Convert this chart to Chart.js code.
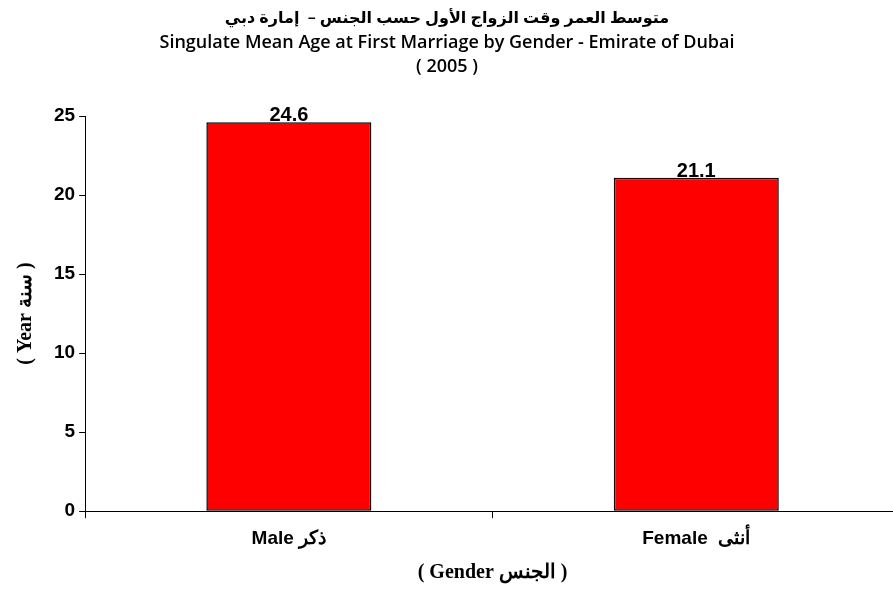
<!DOCTYPE html>
<html>
<head>
<meta charset="utf-8">
<script src="https://cdn.jsdelivr.net/npm/chart.js@4/dist/chart.umd.min.js"></script>
<style>
html,body{margin:0;padding:0;background:#fff;overflow:hidden;width:893px;height:589px;}
#wrap{position:absolute;left:0;top:0;width:912px;height:589px;}
</style>
</head>
<body>
<div id="wrap"><canvas id="c" width="912" height="589"></canvas></div>
<script>
const categories = ["Male ذكر", "Female  أنثى"];
const values = [24.6, 21.1];
const yTicks = [0, 5, 10, 15, 20, 25];
const titleLines = [
  "متوسط العمر وقت الزواج الأول حسب الجنس –  إمارة دبي",
  "Singulate Mean Age at First Marriage by Gender - Emirate of Dubai",
  "( 2005 )"
];
const yTitle = "( Year سنة )";
const xTitle = "( Gender الجنس )";

const titlePlugin = {
  id: 'customTitle',
  afterDraw(chart) {
    const ctx = chart.ctx;
    ctx.save();
    ctx.fillStyle = '#000';
    ctx.textAlign = 'center';
    ctx.textBaseline = 'middle';
    const ys = [18, 43, 67];
    const sizes = [16, 18, 18];
    titleLines.forEach((t, i) => {
      ctx.font = '600 ' + sizes[i] + 'px "Open Sans", "Noto Sans", "DejaVu Sans", sans-serif';
      ctx.fillText(t, 447, ys[i]);
    });
    ctx.restore();
  }
};

const valueLabels = {
  id: 'valueLabels',
  afterDatasetsDraw(chart) {
    const ctx = chart.ctx;
    const meta = chart.getDatasetMeta(0);
    ctx.save();
    ctx.fillStyle = '#000';
    ctx.textAlign = 'center';
    ctx.textBaseline = 'alphabetic';
    ctx.font = 'bold 20px "Liberation Sans", Arial, sans-serif';
    meta.data.forEach((bar, i) => {
      ctx.fillText(values[i].toFixed(1), bar.x, bar.y - 1);
    });
    ctx.restore();
  }
};

new Chart(document.getElementById('c'), {
  type: 'bar',
  data: {
    labels: categories,
    datasets: [{
      data: values,
      backgroundColor: '#ff0000',
      borderColor: '#000',
      borderWidth: 1.5,
      borderSkipped: false,
      barPercentage: 0.405,
      categoryPercentage: 1.0
    }]
  },
  options: {
    responsive: false,
    animation: false,
    devicePixelRatio: 1,
    layout: { padding: { top: 116, right: 12, left: 14, bottom: 4 } },
    plugins: {
      legend: { display: false },
      title: { display: false },
      tooltip: { enabled: false }
    },
    scales: {
      x: {
        grid: { display: true, drawOnChartArea: false, offset: true, color: '#000', tickLength: 7, lineWidth: 1 },
        border: { display: true, color: '#000', width: 1 },
        ticks: {
          color: '#000', padding: 9,
          font: { family: '"Liberation Sans", Arial, sans-serif', size: 19, weight: 'bold' }
        },
        title: {
          display: true, text: xTitle, color: '#000', padding: { top: 2, bottom: 0 },
          font: { family: '"Liberation Serif", "Times New Roman", serif', size: 20, weight: 'bold' }
        }
      },
      y: {
        min: 0, max: 25,
        afterBuildTicks(axis) { axis.ticks = yTicks.map(v => ({ value: v })); },
        grid: { display: true, drawOnChartArea: false, color: '#000', tickLength: 6, lineWidth: 1 },
        border: { display: true, color: '#000', width: 1 },
        ticks: {
          color: '#000', padding: 4,
          font: { family: '"Liberation Sans", Arial, sans-serif', size: 19, weight: 'bold' }
        },
        title: {
          display: true, text: yTitle, color: '#000', padding: { top: 0, bottom: 12 },
          font: { family: '"Liberation Serif", "Times New Roman", serif', size: 20, weight: 'bold' }
        }
      }
    }
  },
  plugins: [titlePlugin, valueLabels]
});
</script>
</body>
</html>
